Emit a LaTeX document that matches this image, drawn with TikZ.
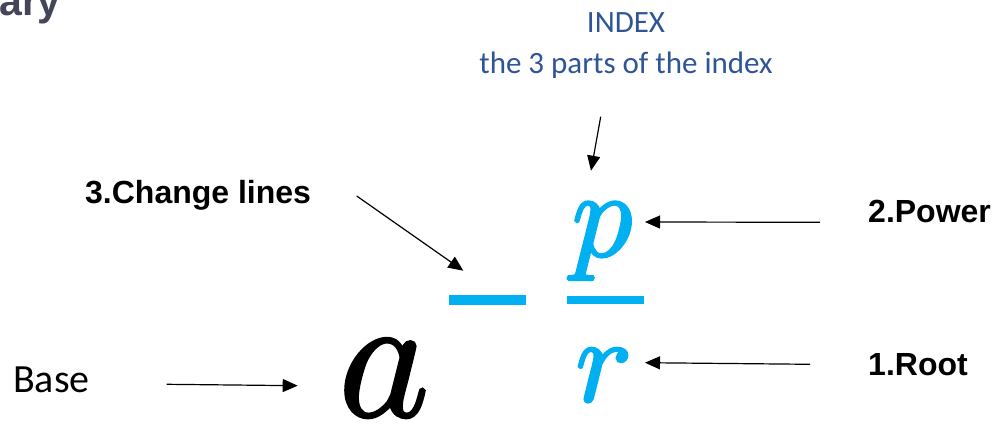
\RequirePackage{fix-cm}
\documentclass[tikz,border=0pt]{standalone}
\usepackage{fontspec}
\setmainfont{Liberation Sans}
\newfontfamily\calibri{Carlito}
\usetikzlibrary{arrows.meta}
\definecolor{cyanx}{HTML}{00B0F0}
\definecolor{bluex}{HTML}{2F5597}
\definecolor{grayx}{HTML}{44445A}
\newcommand{\heavyglyph}[2]{\special{pdf:literal direct 2 Tr #1 w}#2\special{pdf:literal direct 0 Tr 1 w}}
\tikzset{
  x=1pt,y=1pt,
  arr/.style={line width=1.2pt,-{Triangle[length=15pt,width=13pt]}},
  lbl/.style={inner sep=0pt,anchor=base west,font=\fontsize{32}{38}\selectfont\bfseries},
  idx/.style={inner sep=0pt,anchor=base,text=bluex,font=\calibri\fontsize{31}{37}\selectfont},
  glyph/.style={inner sep=0pt,anchor=base},
  bar/.style={fill=cyanx,draw=none}
}
\begin{document}
\begin{tikzpicture}
\useasboundingbox (0,0) rectangle (995,430);
% cropped title
\node[inner sep=0pt,anchor=base east,text=grayx,font=\fontsize{41}{46}\selectfont\bfseries] (ttl) at (61,414) {ary};
% index labels
\node[idx] (index) at (626,397) {INDEX};
\node[idx] (parts) at (626,356) {the 3 parts of the index};
% side labels
\node[lbl] (chg) at (85,226) {3.Change lines};
\node[lbl] (pow) at (868,207) {2.Power};
\node[lbl] (root) at (868,54) {1.Root};
\node[inner sep=0pt,anchor=base west,font=\calibri\fontsize{40}{48}\selectfont] (base) at (13,37) {Base};
% glyphs
\node[glyph,font=\fontsize{176}{176}\selectfont] (a) at (384,14) {\heavyglyph{3.2}{$a$}};
\node[glyph,text=cyanx,font=\fontsize{123}{123}\selectfont] (p) at (602,174) {\heavyglyph{2.8}{$p$}};
\node[glyph,text=cyanx,font=\fontsize{120}{120}\selectfont] (r) at (604,29) {\heavyglyph{2.8}{$r$}};
% bars
\path[bar] (449,124.5) rectangle (526,135) node[coordinate] (barL) {};
\path[bar] (567,126) rectangle (644,134) node[coordinate] (barR) {};
% arrow ends
\coordinate (dT) at (600.7,313.3);
\coordinate (dH) at (591,259.3);
\coordinate (cT) at (356.7,234);
\coordinate (cH) at (463.3,159.3);
\coordinate (pT) at (820,207.7);
\coordinate (pH) at (645,208);
\coordinate (rT) at (810,65.7);
\coordinate (rH) at (645,67.3);
\coordinate (bT) at (166.7,45.7);
\coordinate (bH) at (297.7,44.3);
\draw[arr] (dT) -- (dH);
\draw[arr] (cT) -- (cH);
\draw[arr] (pT) -- (pH);
\draw[arr] (rT) -- (rH);
\draw[arr] (bT) -- (bH);
\end{tikzpicture}
\end{document}
